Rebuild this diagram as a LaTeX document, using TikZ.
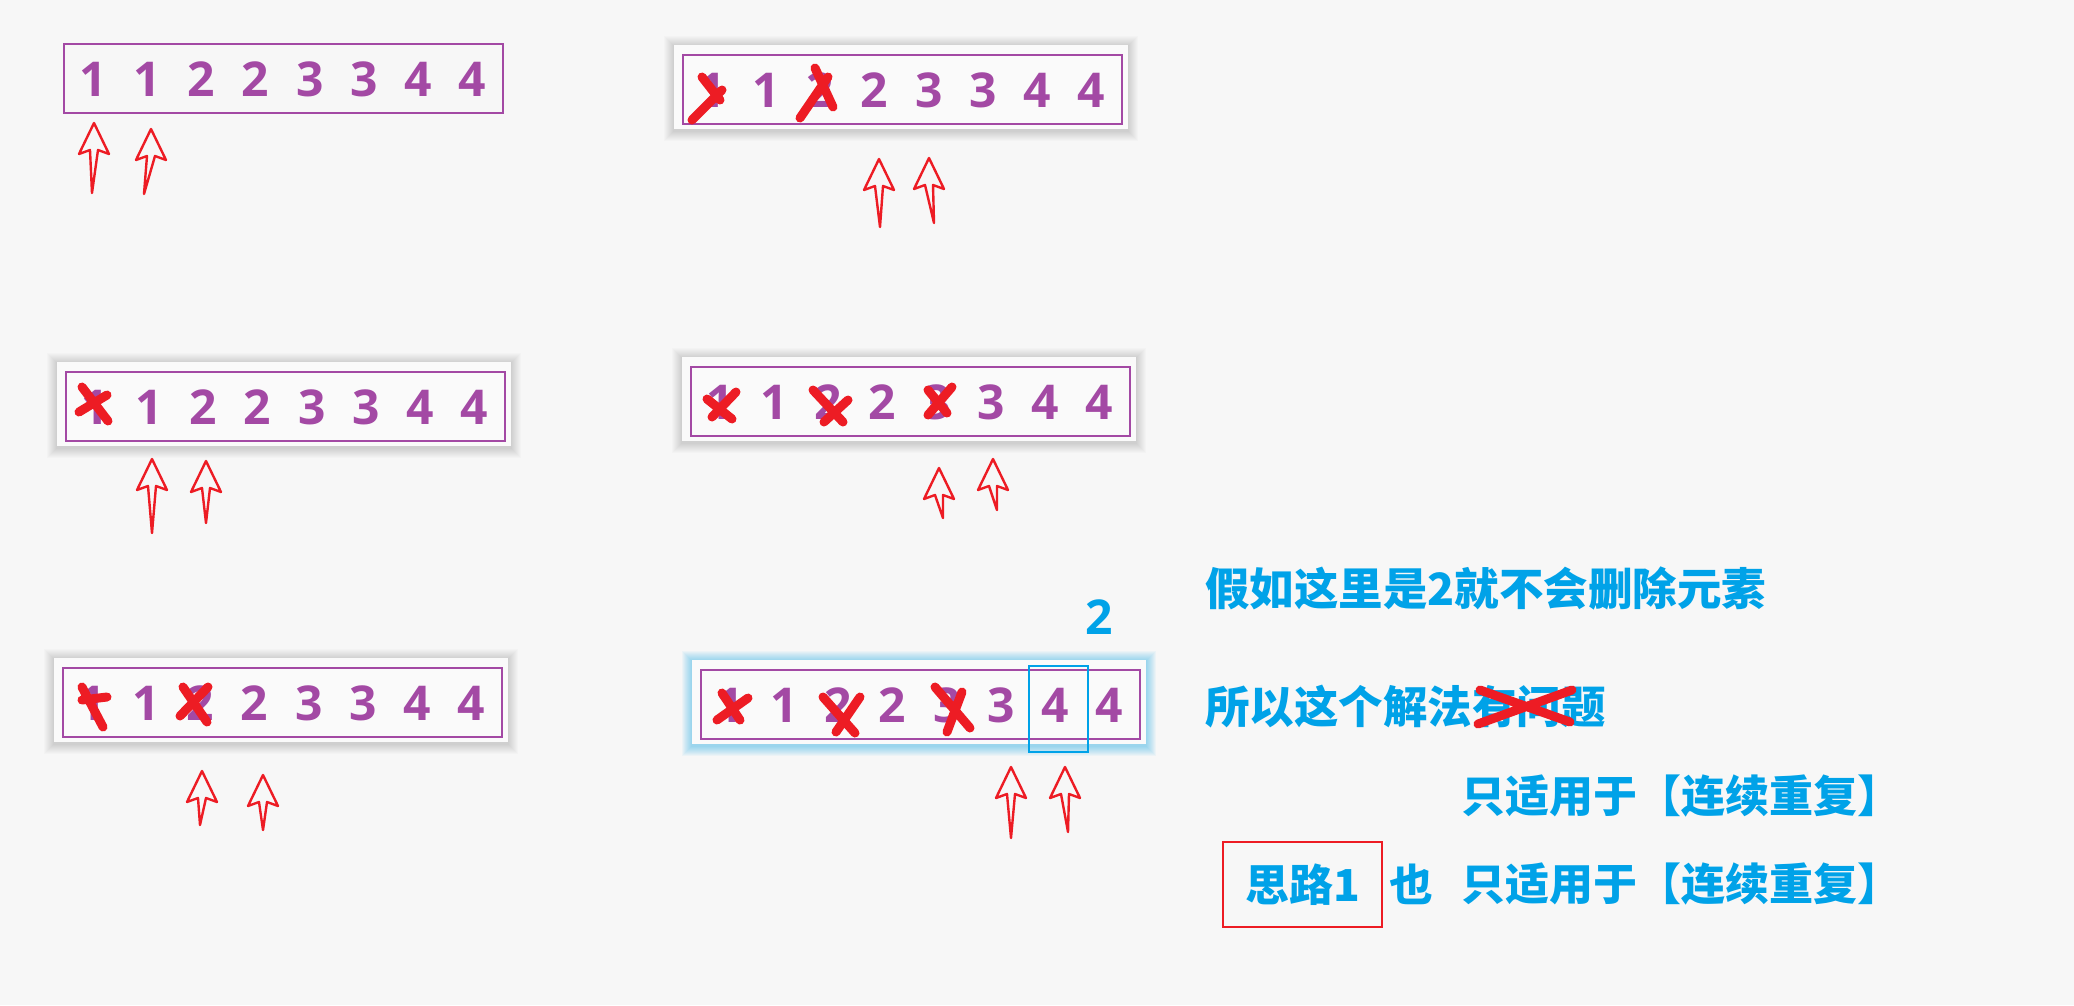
\documentclass[tikz,border=0pt]{standalone}
\usepackage{fontspec}
\usetikzlibrary{positioning}
\newfontfamily\digitfont{Open Sans}
\newfontfamily\cjk{Noto Sans CJK SC}
\definecolor{bg}{HTML}{F7F7F7}
\definecolor{card}{HTML}{FAFAFA}
\definecolor{purp}{HTML}{A349A4}
\definecolor{pen}{HTML}{ED1C24}
\definecolor{sky}{HTML}{00A2E8}

\newcommand\spacing{54.2}
\newcommand\drawdigits{
  \foreach \n [count=\i] in {1,1,2,2,3,3,4,4}
    \node[digit] (d\i) at ({(\i-1)*\spacing},0) {\n};
}
\newcommand\drawframe{\draw[frame] (-29,-35) rectangle (410,34);}
\newcommand\drawcard[2]{
  \foreach \k in {1,...,10}
    \fill[#1,opacity=#2] ({-38-\k},{-44-\k}) rectangle ({416+\k},{41+\k});
  \fill[card] (-38,-45) rectangle (416,39);
}
\newcommand\pointer[2]{
  \coordinate (tip) at (#1);
  \draw[pointer] (#2) -- ([shift={(-4,27)}]tip) -- ++(-11,4) -- (tip)
    -- ++(15,31) -- ++(-11,-4) -- cycle;
}

\begin{document}
\begin{tikzpicture}[x=1pt,y=-1pt,
    digit/.style={text=purp,font=\digitfont\bfseries\fontsize{48}{48}\selectfont,inner sep=0pt},
    frame/.style={draw=purp,line width=2.8pt},
    pointer/.style={draw=pen,line width=2.4pt,line join=round},
    xstroke/.style={draw=pen,line width=9pt,line cap=round},
    note/.style={text=sky,font=\cjk\bfseries\fontsize{44.5}{44.5}\selectfont,inner sep=0pt},
    small note/.style={note,font=\cjk\bfseries\fontsize{44}{44}\selectfont},
    hilite/.style={draw=sky,line width=2.5pt,inner sep=0pt}
  ]
    \fill[bg] (0,0) rectangle (2074,1005);
    \useasboundingbox (0,0) rectangle (2074,1005);

    % top left
    \begin{scope}[shift={(93,79)},name prefix=a-]
      \drawframe
      \drawdigits
      \pointer{1,44}{-1,114}
      \pointer{58,50}{51,115}
    \end{scope}

    % top right
    \begin{scope}[shift={(712,90)},name prefix=b-]
      \drawcard{black}{0.014}
      \drawframe
      \drawdigits
      \draw[xstroke] (-20,30) -- (10,0) (-10,-13) -- (8,10);
      \draw[xstroke] (88,28) -- (116,-13) (103,-22) -- (121,17);
      \pointer{167,69}{168,137}
      \pointer{217,68}{222,133}
    \end{scope}

    % middle left
    \begin{scope}[shift={(95,407)},name prefix=c-]
      \drawcard{black}{0.014}
      \drawframe
      \drawdigits
      \draw[xstroke] (-13,-20) -- (13,14) (-16,5) -- (12,-12);
      \pointer{57,52}{57,126}
      \pointer{111,54}{111,116}
    \end{scope}

    % middle right
    \begin{scope}[shift={(720,402)},name prefix=d-]
      \drawcard{black}{0.014}
      \drawframe
      \drawdigits
      \draw[xstroke] (-13,-3) -- (12,17) (-8,15) -- (16,-10);
      \draw[xstroke] (93,-12) -- (123,20) (104,20) -- (128,-2);
      \draw[xstroke] (232,-15) -- (208,13) (208,-12) -- (227,11);
      \pointer{219,66}{223,116}
      \pointer{273,57}{277,108}
    \end{scope}

    % bottom left
    \begin{scope}[shift={(92,703)},name prefix=e-]
      \drawcard{black}{0.014}
      \drawframe
      \drawdigits
      \draw[xstroke] (-10,-16) -- (11,24) (-10,-3) -- (15,-6);
      \draw[xstroke] (88,13) -- (116,-16) (91,-16) -- (115,19);
      \pointer{110,68}{108,122}
      \pointer{171,72}{171,127}
    \end{scope}

    % bottom right
    \begin{scope}[shift={(730,705)},name prefix=f-]
      \drawcard{sky}{0.045}
      \drawframe
      \drawdigits
      \draw[xstroke] (-13,15) -- (18,-7) (-8,-12) -- (10,15);
      \draw[xstroke] (93,-8) -- (125,28) (106,27) -- (130,-8);
      \draw[xstroke] (205,-18) -- (240,23) (217,27) -- (232,-13);
      \node[hilite,minimum width=59,minimum height=86] (pick) at (328.5,4) {};
      \node[digit,text=sky] (two) at (369,-88) {2};
      \pointer{281,62}{281,133}
      \pointer{335,62}{338,127}
    \end{scope}

    % notes
    \node[note,anchor=west] (if) at (1205,588) {假如这里是2就不会删除元素};
    \node[note,anchor=west] (so) at (1205,707) {所以这个解法有问题};
    \draw[xstroke] (1478,724) -- (1572,690) (1480,690) -- (1570,722);

    \node[small note,anchor=west] (only) at (1461,796) {只适用于【连续重复】};
    \node[small note,draw=pen,line width=2.5pt,minimum width=159,minimum height=85]
      (idea) at (1302.5,884.5) {思路1};
    \node[small note,right=6pt of idea] (also) {也};
    \node[small note,anchor=west] (onlytoo) at (only.west |- idea) {只适用于【连续重复】};
  \end{tikzpicture}
\end{document}
